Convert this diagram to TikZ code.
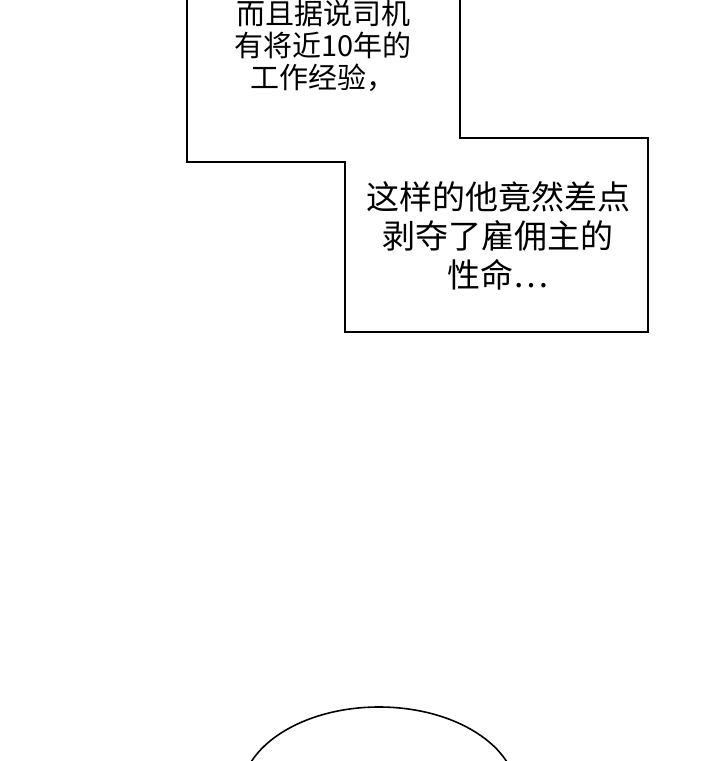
\documentclass[tikz,border=0pt]{standalone}
\usepackage{fontspec}
\newfontfamily\cjk{Noto Sans CJK SC}
\tikzset{bubble/.style={draw=black,line width=1.6pt,fill=white},
 txt/.style={align=center,inner sep=0}}
\begin{document}
\begin{tikzpicture}[x=1pt,y=-1pt]
\useasboundingbox (0,0) rectangle (720,761);
\fill[white] (0,0) rectangle (720,761);
\begin{scope}
\clip (0,0) rectangle (720,761);
\draw[bubble] (187,-10) -- (187,162) -- (345,162) -- (345,332) -- (648,332) -- (648,138) -- (460,138) -- (460,-10);
\draw[bubble] (379,795) ellipse [x radius=138, y radius=88];
\end{scope}
\node[txt,font=\cjk\fontsize{29}{32}\selectfont] (t1) at (323,46) {而且据说司机\\有将近10年的\\工作经验，};
\node[txt,font=\cjk\fontsize{33}{39}\selectfont] (t2) at (498,236) {这样的他竟然差点\\剥夺了雇佣主的\\性命…};
\end{tikzpicture}
\end{document}
